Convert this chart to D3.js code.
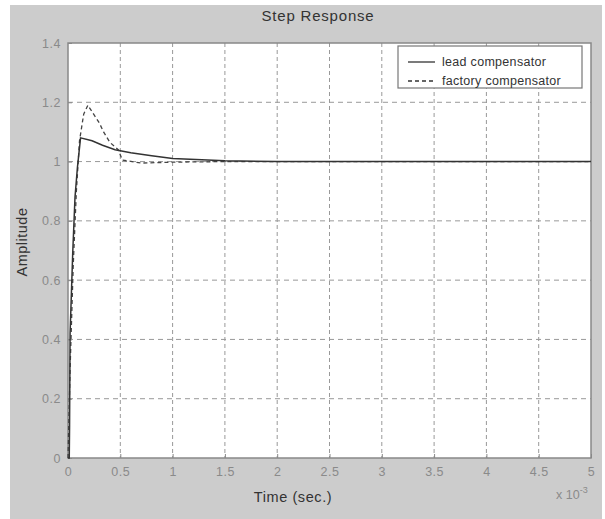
<!DOCTYPE html>
<html>
<head>
<meta charset="utf-8">
<script src="https://cdn.jsdelivr.net/npm/d3@7"></script>
<style>
  body { margin: 0; background: #fff; }
  text { font-family: "Liberation Sans", Arial, sans-serif; }
</style>
</head>
<body>
<div class="chart"></div>
<script>
// Time in units of 1e-3 sec
var leadTime = [0, 0.012, 0.015, 0.02, 0.045, 0.067, 0.09, 0.12, 0.23, 0.33, 0.45, 0.6, 0.8, 1.0, 1.5, 2, 5];
var leadAmp  = [0, 0, 0.11, 0.42, 0.69, 0.88, 0.98, 1.08, 1.07, 1.055, 1.04, 1.03, 1.02, 1.01, 1.003, 1.0, 1.0];

var factoryTime = [0, 0.02, 0.05, 0.08, 0.11, 0.15, 0.19, 0.3, 0.34, 0.4, 0.48, 0.52, 0.7, 1.0, 1.5, 5];
var factoryAmp  = [0, 0.3, 0.65, 0.9, 1.07, 1.16, 1.19, 1.13, 1.10, 1.065, 1.04, 1.005, 0.995, 0.998, 1.0, 1.0];

var xTicks = [0, 0.5, 1, 1.5, 2, 2.5, 3, 3.5, 4, 4.5, 5];
var yTicks = [0, 0.2, 0.4, 0.6, 0.8, 1, 1.2, 1.4];
var seriesNames = ["lead compensator", "factory compensator"];

var svgWidth = 605, svgHeight = 519;
var plot = { left: 68, top: 43, right: 591, bottom: 458 };

var svg = d3.select(".chart").append("svg")
    .attr("width", svgWidth)
    .attr("height", svgHeight);

// figure background
svg.append("rect")
    .attr("x", 10).attr("y", 5)
    .attr("width", 592).attr("height", 514)
    .attr("fill", "#cccccc");

var x = d3.scaleLinear().domain([0, 5]).range([plot.left, plot.right]);
var y = d3.scaleLinear().domain([0, 1.4]).range([plot.bottom, plot.top]);

// plot area
svg.append("rect")
    .attr("x", plot.left).attr("y", plot.top)
    .attr("width", plot.right - plot.left).attr("height", plot.bottom - plot.top)
    .attr("fill", "#fff");

// grid
svg.append("g").selectAll("line")
    .data(xTicks.slice(1, -1))
    .enter().append("line")
    .attr("x1", d => x(d)).attr("x2", d => x(d))
    .attr("y1", plot.top).attr("y2", plot.bottom)
    .attr("stroke", "#999").attr("stroke-width", 1)
    .attr("stroke-dasharray", "4,3");

svg.append("g").selectAll("line")
    .data(yTicks.slice(1, -1))
    .enter().append("line")
    .attr("x1", plot.left).attr("x2", plot.right)
    .attr("y1", d => y(d)).attr("y2", d => y(d))
    .attr("stroke", "#999").attr("stroke-width", 1)
    .attr("stroke-dasharray", "5,4");

// axes with ticks inside
var bottomAxis = d3.axisBottom(x).tickValues(xTicks).tickSize(-4).tickPadding(9)
    .tickFormat(d3.format("~g"));
var leftAxis = d3.axisLeft(y).tickValues(yTicks).tickSize(-4).tickPadding(7)
    .tickFormat(d3.format("~g"));

var xAxis = svg.append("g")
    .attr("transform", `translate(0, ${plot.bottom})`)
    .call(bottomAxis);
var yAxis = svg.append("g")
    .attr("transform", `translate(${plot.left}, 0)`)
    .call(leftAxis);

[xAxis, yAxis].forEach(function(a) {
    a.select(".domain").remove();
    a.selectAll("line").attr("stroke", "#888");
    a.selectAll("text").attr("fill", "#8a8a8a")
        .style("font-size", "12.5px").style("letter-spacing", "0.5px");
});

// box
svg.append("rect")
    .attr("x", plot.left).attr("y", plot.top)
    .attr("width", plot.right - plot.left).attr("height", plot.bottom - plot.top)
    .attr("fill", "none").attr("stroke", "#888").attr("stroke-width", 1.5);

// curves
var line = d3.line().x(d => x(d[0])).y(d => y(d[1]));
var leadData = leadTime.map((t, i) => [t, leadAmp[i]]);
var factoryData = factoryTime.map((t, i) => [t, factoryAmp[i]]);

svg.append("path")
    .datum(factoryData)
    .attr("d", line)
    .attr("fill", "none").attr("stroke", "#444").attr("stroke-width", 1.3)
    .attr("stroke-dasharray", "4,3");

svg.append("path")
    .datum(leadData)
    .attr("d", line)
    .attr("fill", "none").attr("stroke", "#333").attr("stroke-width", 1.5);

// legend
var legend = svg.append("g").attr("transform", "translate(398, 46)");
legend.append("rect")
    .attr("width", 184).attr("height", 42)
    .attr("fill", "#fff").attr("stroke", "#777").attr("stroke-width", 1.2);
seriesNames.forEach(function(name, i) {
    var ly = 16 + i * 19;
    legend.append("line")
        .attr("x1", 10).attr("x2", 37)
        .attr("y1", ly).attr("y2", ly)
        .attr("stroke", "#333").attr("stroke-width", 1.3)
        .attr("stroke-dasharray", i === 1 ? "4,3" : null);
    legend.append("text")
        .attr("x", 44).attr("y", ly + 4)
        .attr("fill", "#333")
        .style("font-size", "12.5px").style("letter-spacing", "0.3px")
        .text(name);
});

// title and labels
svg.append("text")
    .attr("x", 318).attr("y", 21)
    .attr("text-anchor", "middle")
    .attr("fill", "#333").style("font-size", "15px").style("letter-spacing", "0.8px")
    .text("Step Response");

svg.append("text")
    .attr("x", 293).attr("y", 502)
    .attr("text-anchor", "middle")
    .attr("fill", "#333").style("font-size", "14.5px").style("letter-spacing", "0.6px")
    .text("Time (sec.)");

svg.append("text")
    .attr("transform", "translate(27, 242) rotate(-90)")
    .attr("text-anchor", "middle")
    .attr("fill", "#333").style("font-size", "14.5px").style("letter-spacing", "0.5px")
    .text("Amplitude");

// x10^-3 multiplier
var mult = svg.append("text")
    .attr("x", 556).attr("y", 499)
    .attr("fill", "#8a8a8a").style("font-size", "12.5px");
mult.append("tspan").text("x 10");
mult.append("tspan").attr("dy", -6).style("font-size", "9px").text("-3");
</script>
</body>
</html>
